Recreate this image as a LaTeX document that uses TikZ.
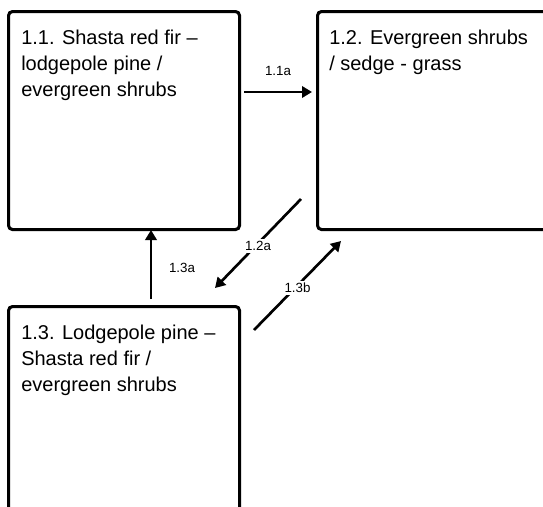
\documentclass[tikz,border=0pt]{standalone}
\usepackage{fontspec}
\setmainfont{Liberation Sans}
\usetikzlibrary{arrows.meta,positioning}

\begin{document}
\begin{tikzpicture}[x=0.75pt,y=-0.75pt,
        statebox/.style={draw, line width=2.3pt, rounded corners=3pt, anchor=north west, inner sep=0pt},
        statetext/.style={anchor=north west, align=left, inner sep=0pt, font=\fontsize{15}{19.5}\selectfont},
        trans/.style={line width=2pt, -{Triangle[length=7.5pt,width=8.5pt]}},
        translabel/.style={font=\fontsize{10}{12}\selectfont, inner sep=1.5pt}]
        \useasboundingbox (0,0) rectangle (543,507);
        % states
        \node[statebox, minimum width=173.25pt, minimum height=163.5pt] (s11) at (7,10) {};
        \node[statebox, minimum width=174pt, minimum height=163.5pt] (s12) at (316,10) {};
        \node[statebox, minimum width=173.25pt, minimum height=161.25pt] (s13) at (7,305) {};
        \node[statetext] (t11) at ([shift={(14,20)}]s11.north west) {1.1. Shasta red fir --\\lodgepole pine /\\evergreen shrubs};
        \node[statetext] (t12) at ([shift={(13,20)}]s12.north west) {1.2. Evergreen shrubs\\/ sedge - grass};
        \node[statetext] (t13) at ([shift={(14,20)}]s13.north west) {1.3. Lodgepole pine --\\Shasta red fir /\\evergreen shrubs};
        % transitions
        \coordinate (a11s) at (244,92);
        \coordinate (a11e) at (312,92);
        \coordinate (a13s) at (151,299);
        \coordinate (a13e) at (151,230);
        \coordinate (a12s) at (301,199);
        \coordinate (a12e) at (215,288);
        \coordinate (b13s) at (254,330);
        \coordinate (b13e) at (341,241);
        \draw[trans] (a11s) -- (a11e) node[translabel, midway, above=10pt] (l11a) {1.1a};
        \draw[trans] (a13s) -- (a13e) node[translabel, pos=0.45, right=11pt] (l13a) {1.3a};
        \draw[trans] (a12s) -- (a12e) node[translabel, midway, fill=white, yshift=-2pt] (l12a) {1.2a};
        \draw[trans] (b13s) -- (b13e) node[translabel, midway, fill=white, yshift=-2pt] (l13b) {1.3b};
    \end{tikzpicture}
\end{document}
